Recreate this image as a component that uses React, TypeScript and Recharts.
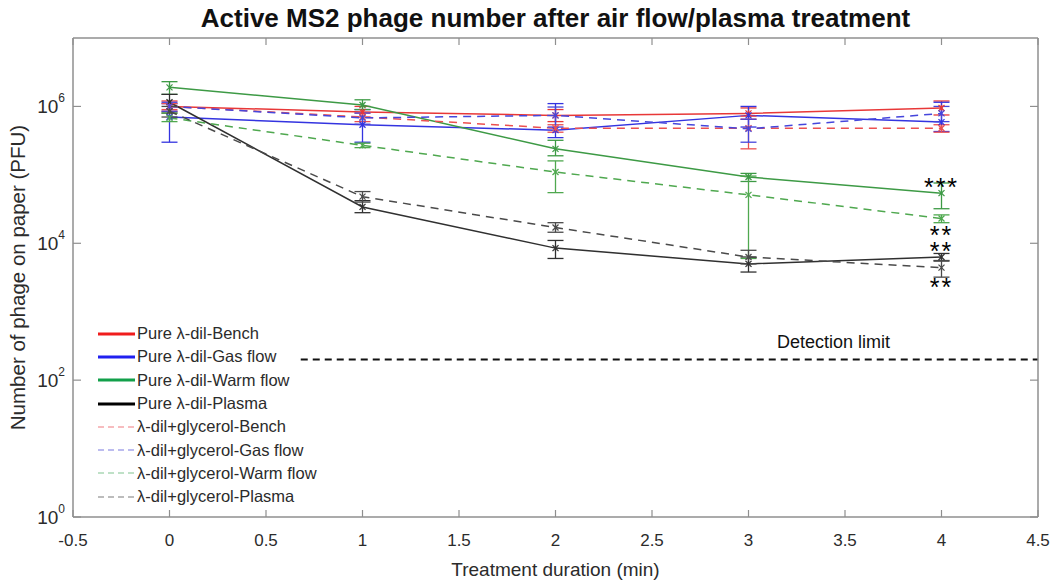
import { LineChart, Line, XAxis, YAxis, ErrorBar, ReferenceLine, ReferenceDot, Legend } from "recharts";

// treatment duration (min)
const durations = [0, 1, 2, 3, 4];

// mean PFU values
const pureBench = [1.0e6, 8.3e5, 7.4e5, 7.9e5, 9.5e5];
const pureGas = [7.0e5, 5.4e5, 4.5e5, 7.4e5, 5.9e5];
const pureWarm = [1.9e6, 1.05e6, 2.4e5, 9.3e4, 5.4e4];
const purePlasma = [1.15e6, 3.4e4, 8.5e3, 5.0e3, 6.3e3];
const glyBench = [1.0e6, 7.0e5, 4.8e5, 4.8e5, 4.8e5];
const glyGas = [1.0e6, 6.8e5, 7.4e5, 4.7e5, 7.9e5];
const glyWarm = [6.8e5, 2.7e5, 1.1e5, 5.1e4, 2.3e4];
const glyPlasma = [8.5e5, 4.8e4, 1.7e4, 6.3e3, 4.4e3];

// error bar ends (lower / upper)
const pureBenchLo = [8.5e5, 7.0e5, 6.0e5, 6.5e5, 7.5e5];
const pureBenchHi = [1.2e6, 1.0e6, 9.0e5, 9.5e5, 1.2e6];
const pureGasLo = [3.0e5, 3.0e5, 3.5e5, 5.0e5, 4.3e5];
const pureGasHi = [1.1e6, 9.0e5, 1.1e6, 1.0e6, 1.15e6];
const pureWarmLo = [1.5e6, 9.0e5, 1.9e5, 8.0e4, 3.2e4];
const pureWarmHi = [2.3e6, 1.25e6, 3.2e5, 1.05e5, 7.6e4];
const purePlasmaLo = [8.0e5, 2.8e4, 6.0e3, 3.8e3, 5.5e3];
const purePlasmaHi = [1.5e6, 4.2e4, 1.1e4, 6.3e3, 7.1e3];
const glyBenchLo = [9.0e5, 6.0e5, 4.2e5, 2.4e5, 4.2e5];
const glyBenchHi = [1.1e6, 8.0e5, 5.4e5, 7.2e5, 5.4e5];
const glyGasLo = [8.5e5, 5.5e5, 5.0e5, 3.0e5, 6.0e5];
const glyGasHi = [1.15e6, 8.0e5, 9.8e5, 6.5e5, 1.0e6];
const glyWarmLo = [6.0e5, 2.5e5, 5.5e4, 6.0e3, 2.0e4];
const glyWarmHi = [8.0e5, 2.9e5, 1.6e5, 9.6e4, 2.6e4];
const glyPlasmaLo = [7.0e5, 4.0e4, 1.45e4, 5.0e3, 3.2e3];
const glyPlasmaHi = [1.0e6, 5.7e4, 2.0e4, 7.9e3, 5.6e3];

// axes
const xTicks = [-0.5, 0, 0.5, 1, 1.5, 2, 2.5, 3, 3.5, 4, 4.5];
const yTicks = [1, 1e2, 1e4, 1e6];
const detectionLimit = 200;

// significance marks at 4 min
const sigLabels = ["***", "**", "**", "**"];
const sigValues = [6.6e4, 1.3e4, 7.6e3, 2.3e3];

const series = [
  { key: "pureBench", name: "Pure \u03bb-dil-Bench", mean: pureBench, lo: pureBenchLo, hi: pureBenchHi, color: "#e83838", legend: "#f01c1c", dashed: false },
  { key: "pureGas", name: "Pure \u03bb-dil-Gas flow", mean: pureGas, lo: pureGasLo, hi: pureGasHi, color: "#3434e0", legend: "#2020f0", dashed: false },
  { key: "pureWarm", name: "Pure \u03bb-dil-Warm flow", mean: pureWarm, lo: pureWarmLo, hi: pureWarmHi, color: "#3d9a45", legend: "#12a04a", dashed: false },
  { key: "purePlasma", name: "Pure \u03bb-dil-Plasma", mean: purePlasma, lo: purePlasmaLo, hi: purePlasmaHi, color: "#303030", legend: "#000000", dashed: false },
  { key: "glyBench", name: "\u03bb-dil+glycerol-Bench", mean: glyBench, lo: glyBenchLo, hi: glyBenchHi, color: "#ec5050", legend: "#f07a80", dashed: true },
  { key: "glyGas", name: "\u03bb-dil+glycerol-Gas flow", mean: glyGas, lo: glyGasLo, hi: glyGasHi, color: "#4646dc", legend: "#7a7ae0", dashed: true },
  { key: "glyWarm", name: "\u03bb-dil+glycerol-Warm flow", mean: glyWarm, lo: glyWarmLo, hi: glyWarmHi, color: "#4fa84f", legend: "#80c490", dashed: true },
  { key: "glyPlasma", name: "\u03bb-dil+glycerol-Plasma", mean: glyPlasma, lo: glyPlasmaLo, hi: glyPlasmaHi, color: "#4a4a4a", legend: "#7a7a7a", dashed: true },
];

const data = durations.map((t, i) => {
  const row: Record<string, number | number[]> = { t };
  series.forEach((s) => {
    row[s.key] = s.mean[i];
    row[s.key + "Err"] = [s.mean[i] - s.lo[i], s.hi[i] - s.mean[i]];
  });
  return row;
});

const FONT = "'Liberation Sans', Arial, Helvetica, sans-serif";
const AXIS = "#8f8f8f";
const TEXT = "#2b2b2b";

function StarDot(props: any) {
  const { cx, cy, stroke } = props;
  if (cx == null || cy == null) return null;
  const r = 3;
  return (
    <g stroke={stroke} strokeWidth={1.2}>
      <line x1={cx - r} y1={cy - r} x2={cx + r} y2={cy + r} />
      <line x1={cx - r} y1={cy + r} x2={cx + r} y2={cy - r} />
      <line x1={cx} y1={cy - r} x2={cx} y2={cy + r} />
    </g>
  );
}

function YTick({ x, y, payload }: any) {
  const exp = Math.round(Math.log10(payload.value));
  return (
    <text x={x} y={y + 7} textAnchor="end" fill={TEXT} fontFamily={FONT}>
      <tspan fontSize={19}>10</tspan>
      <tspan fontSize={12} dy={-11}>{exp}</tspan>
    </text>
  );
}

const noTick = () => <g />;

function LegendBox() {
  return (
    <div style={{ fontFamily: FONT, fontSize: 16.5, color: TEXT }}>
      {series.map((s) => (
        <div key={s.key} style={{ display: "flex", alignItems: "center", height: 23.3 }}>
          <svg width={41} height={10}>
            <line x1={2} y1={5} x2={39} y2={5} stroke={s.legend} strokeWidth={s.dashed ? 1.2 : 3} strokeDasharray={s.dashed ? "6 4" : undefined} />
          </svg>
          <span style={{ whiteSpace: "nowrap" }}>{s.name}</span>
        </div>
      ))}
    </div>
  );
}

export default function App() {
  return (
    <div style={{ position: "absolute", left: 0, top: 0, width: 1057, height: 581, background: "#fff" }}>
      <div style={{ position: "absolute", left: 73, width: 965, top: 3, textAlign: "center", fontFamily: FONT, fontWeight: "bold", fontSize: 26, color: "#111", whiteSpace: "nowrap" }}>
        Active MS2 phage number after air flow/plasma treatment
      </div>
      <LineChart width={1057} height={581} data={data} margin={{ top: 38, right: 19, bottom: 0, left: 13 }}>
        <XAxis xAxisId="x" dataKey="t" type="number" domain={[-0.5, 4.5]} ticks={xTicks} interval={0} allowDataOverflow
          height={64} tickLine={false} tickSize={6} tickMargin={11} axisLine={{ stroke: AXIS, strokeWidth: 1.5 }}
          tick={{ fill: TEXT, fontSize: 17, fontFamily: FONT }}
          label={{ value: "Treatment duration (min)", position: "insideBottom", offset: 5, fill: TEXT, fontSize: 19, fontFamily: FONT }} />
        <XAxis xAxisId="xin" dataKey="t" type="number" domain={[-0.5, 4.5]} ticks={xTicks} interval={0} allowDataOverflow mirror
          axisLine={false} tickLine={{ stroke: AXIS, strokeWidth: 1.2 }} tickSize={7} tick={noTick} />
        <XAxis xAxisId="xtop" orientation="top" dataKey="t" type="number" domain={[-0.5, 4.5]} ticks={xTicks} interval={0} allowDataOverflow mirror
          axisLine={{ stroke: AXIS, strokeWidth: 1.5 }} tickLine={{ stroke: AXIS, strokeWidth: 1.2 }} tickSize={7} tick={noTick} />
        <YAxis yAxisId="y" scale="log" domain={[1, 1e7]} ticks={yTicks} interval={0} allowDataOverflow width={60}
          tickLine={false} axisLine={{ stroke: AXIS, strokeWidth: 1.5 }} tick={<YTick />}
          label={{ value: "Number of phage on paper (PFU)", angle: -90, position: "insideLeft", offset: 5, fill: TEXT, fontSize: 20.5, fontFamily: FONT, style: { textAnchor: "middle" } }} />
        <YAxis yAxisId="yin" scale="log" domain={[1, 1e7]} ticks={yTicks} interval={0} allowDataOverflow mirror
          axisLine={false} tickLine={{ stroke: AXIS, strokeWidth: 1.2 }} tickSize={8} tick={noTick} />
        <YAxis yAxisId="yright" orientation="right" scale="log" domain={[1, 1e7]} ticks={yTicks} interval={0} allowDataOverflow mirror
          axisLine={{ stroke: AXIS, strokeWidth: 1.5 }} tickLine={{ stroke: AXIS, strokeWidth: 1.2 }} tickSize={8} tick={noTick} />

        <ReferenceLine xAxisId="x" yAxisId="y" segment={[{ x: 0.68, y: detectionLimit }, { x: 4.5, y: detectionLimit }]}
          stroke="#111" strokeWidth={2} strokeDasharray="7 5" />
        <ReferenceDot xAxisId="x" yAxisId="y" x={3.44} y={360} r={0} fill="none" stroke="none"
          label={{ value: "Detection limit", position: "center", fill: "#111", fontSize: 18, fontFamily: FONT }} />

        {series.map((s) => (
          <Line key={s.key} xAxisId="x" yAxisId="y" dataKey={s.key} name={s.name} stroke={s.color} strokeWidth={1.5}
            strokeDasharray={s.dashed ? "8 6" : undefined} dot={<StarDot />} activeDot={false} isAnimationActive={false}>
            <ErrorBar dataKey={s.key + "Err"} direction="y" width={8} stroke={s.color} strokeWidth={1.3} />
          </Line>
        ))}

        {sigLabels.map((lab, i) => (
          <ReferenceDot key={i} xAxisId="x" yAxisId="y" x={4} y={sigValues[i]} r={0} fill="none" stroke="none"
            label={{ value: lab, position: "center", fill: "#000", fontSize: 25, fontFamily: FONT, letterSpacing: 2 }} />
        ))}

        <Legend content={<LegendBox />} layout="vertical" align="center" verticalAlign="middle"
          wrapperStyle={{ position: "absolute", left: 96, top: 322, width: 280 }} />
      </LineChart>
    </div>
  );
}
